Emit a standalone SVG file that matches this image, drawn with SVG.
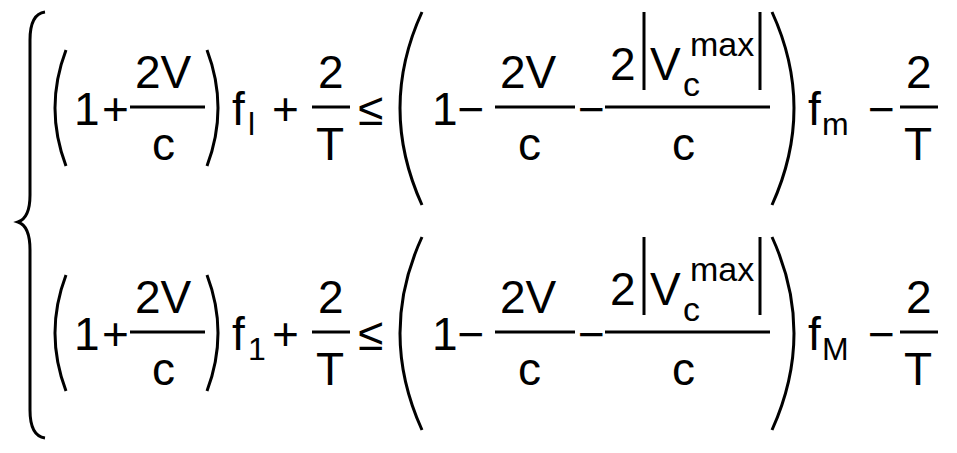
<svg xmlns="http://www.w3.org/2000/svg" width="957" height="453" viewBox="0 0 957 453">
<style>
text{font-family:"Liberation Sans",Arial,sans-serif;font-size:46px;fill:#000}
.s{font-size:32px}
.m{font-size:34px}
.l{stroke:#000;stroke-width:3;fill:none}
</style>
<rect width="957" height="453" fill="#fff"/>
<path class="l" d="M45 12 Q30 14 30 40 L30 195 Q30 218 18 222 Q30 226 30 250 L30 410 Q30 436 45 438"/>
<g id="row1">
<path class="l" d="M66 50 Q44 108 66 166"/>
<text x="74" y="125">1</text><text x="102" y="125">+</text>
<text x="135" y="88">2V</text><line class="l" x1="130" y1="107" x2="205" y2="107"/><text x="152" y="160">c</text>
<path class="l" d="M207 50 Q229 108 207 166"/>
<text x="232" y="125">f</text><text class="s" x="248" y="135">l</text>
<text x="272" y="125">+</text>
<text x="318" y="88">2</text><line class="l" x1="312" y1="107" x2="350" y2="107"/><text x="316" y="160">T</text>
<text x="358" y="125">≤</text>
<path class="l" d="M422 12 Q378 108 422 205"/>
<text x="432" y="125">1−</text>
<text x="500" y="88">2V</text><line class="l" x1="495" y1="107" x2="575" y2="107"/><text x="518" y="160">c</text>
<text x="578" y="125">−</text>
<text x="610" y="80">2</text><line class="l" x1="644" y1="12" x2="644" y2="90"/><text x="650" y="80">V</text><text class="m" x="683" y="96">c</text><text class="m" x="690" y="56">max</text><line class="l" x1="760" y1="12" x2="760" y2="90"/>
<line class="l" x1="605" y1="107" x2="770" y2="107"/><text x="672" y="160">c</text>
<path class="l" d="M772 12 Q816 108 772 205"/>
<text x="808" y="125">f</text><text class="s" x="822" y="135">m</text>
<text x="868" y="125">−</text>
<text x="906" y="88">2</text><line class="l" x1="900" y1="107" x2="938" y2="107"/><text x="904" y="160">T</text>
</g>
<g id="row2" transform="translate(0,225)">
<path class="l" d="M66 50 Q44 108 66 166"/>
<text x="74" y="125">1</text><text x="102" y="125">+</text>
<text x="135" y="88">2V</text><line class="l" x1="130" y1="107" x2="205" y2="107"/><text x="152" y="160">c</text>
<path class="l" d="M207 50 Q229 108 207 166"/>
<text x="232" y="125">f</text><text class="s" x="248" y="135">1</text>
<text x="272" y="125">+</text>
<text x="318" y="88">2</text><line class="l" x1="312" y1="107" x2="350" y2="107"/><text x="316" y="160">T</text>
<text x="358" y="125">≤</text>
<path class="l" d="M422 12 Q378 108 422 205"/>
<text x="432" y="125">1−</text>
<text x="500" y="88">2V</text><line class="l" x1="495" y1="107" x2="575" y2="107"/><text x="518" y="160">c</text>
<text x="578" y="125">−</text>
<text x="610" y="80">2</text><line class="l" x1="644" y1="12" x2="644" y2="90"/><text x="650" y="80">V</text><text class="m" x="683" y="96">c</text><text class="m" x="690" y="56">max</text><line class="l" x1="760" y1="12" x2="760" y2="90"/>
<line class="l" x1="605" y1="107" x2="770" y2="107"/><text x="672" y="160">c</text>
<path class="l" d="M772 12 Q816 108 772 205"/>
<text x="808" y="125">f</text><text class="s" x="822" y="135">M</text>
<text x="868" y="125">−</text>
<text x="906" y="88">2</text><line class="l" x1="900" y1="107" x2="938" y2="107"/><text x="904" y="160">T</text>
</g>
</svg>
